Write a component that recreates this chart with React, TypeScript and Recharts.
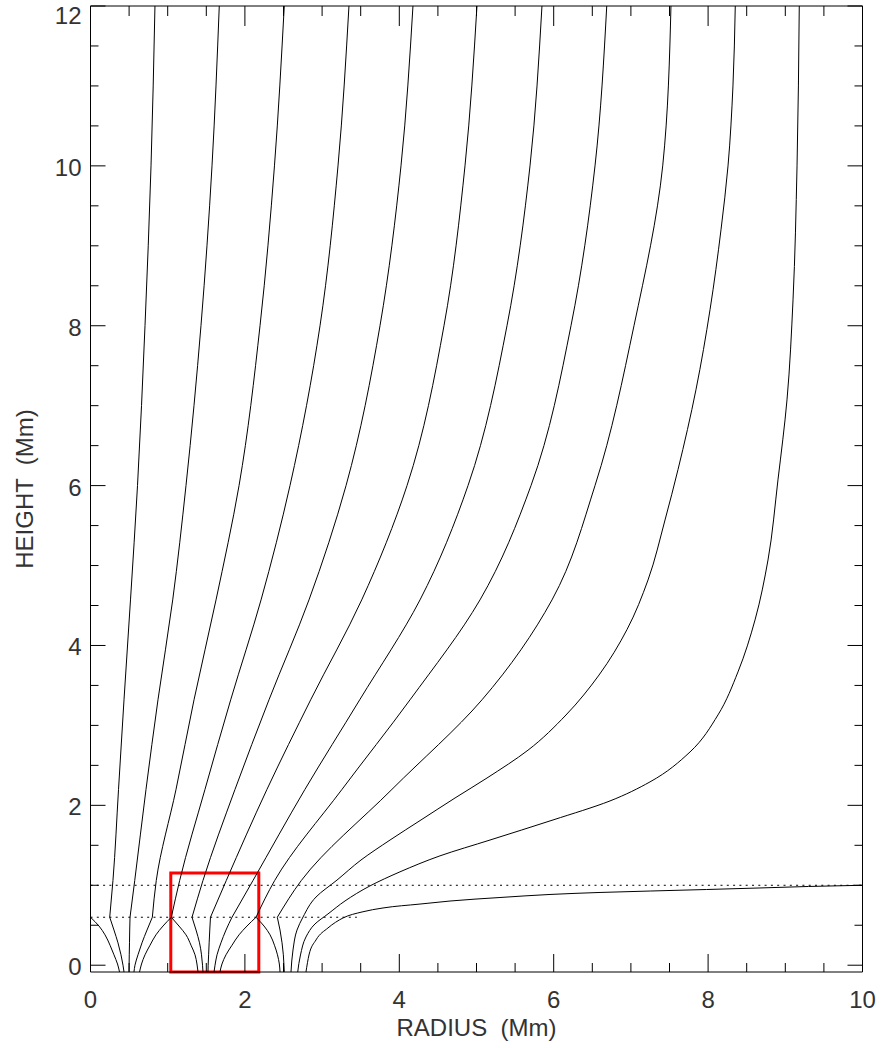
import { LineChart, Line, XAxis, YAxis, ReferenceArea } from 'recharts'

const upperZ = [0.6, 1.06, 2.2, 3.32, 4.57, 6, 8, 10, 12]
const line1Upper = [0.249, 0.291, 0.363, 0.434, 0.518, 0.609, 0.706, 0.784, 0.835]
const line2Upper = [0.512, 0.573, 0.719, 0.874, 1.065, 1.237, 1.431, 1.574, 1.668]
const line3Upper = [0.801, 0.852, 1.108, 1.341, 1.626, 1.924, 2.196, 2.383, 2.51]
const line4Upper = [1.047, 1.155, 1.483, 1.816, 2.209, 2.584, 2.973, 3.206, 3.348]
const line5Upper = [1.315, 1.457, 1.872, 2.312, 2.83, 3.31, 3.75, 4.022, 4.177]
const line6Upper = [1.554, 1.759, 2.286, 2.852, 3.513, 4.1, 4.579, 4.851, 5.006]
const line7Upper = [1.833, 2.105, 2.778, 3.487, 4.268, 4.89, 5.395, 5.693, 5.848]
const line8Upper = [2.144, 2.386, 3.258, 4.139, 5.045, 5.706, 6.224, 6.535, 6.687]
const line9Upper = [2.42, 2.731, 3.905, 5.071, 5.978, 6.535, 7.04, 7.412, 7.519]

// below the 0.6 Mm layer, inside the flux tubes
const lowerZ = [-0.085, 0, 0.13, 0.28, 0.44, 0.6]
const line1Lower = [0.434, 0.421, 0.395, 0.356, 0.304, 0.249]
const line2Lower = [0.499, 0.5, 0.502, 0.505, 0.508, 0.512]
const line3Lower = [0.563, 0.576, 0.615, 0.667, 0.732, 0.801]
const line5Lower = [1.457, 1.451, 1.438, 1.412, 1.367, 1.315]
const line6Lower = [1.522, 1.524, 1.53, 1.537, 1.545, 1.554]
const line7Lower = [1.6, 1.613, 1.639, 1.69, 1.755, 1.833]
const line9Lower = [2.51, 2.506, 2.498, 2.481, 2.455, 2.42]

// tube boundary arcs, from the base up to the cusps
const arcZ = [-0.085, 0.015, 0.13, 0.25, 0.38, 0.49, 0.6]
const arcA1 = [0.376, 0.35, 0.304, 0.253, 0.188, 0.11, 0]
const arcA2 = [0.635, 0.661, 0.706, 0.771, 0.848, 0.939, 1.047]
const arcB1 = [1.393, 1.379, 1.354, 1.302, 1.237, 1.146, 1.047]
const arcB2 = [1.677, 1.703, 1.755, 1.833, 1.924, 2.027, 2.144]
const arcC1 = [2.455, 2.446, 2.422, 2.383, 2.326, 2.248, 2.144]

// outer lines of the third tube
const line10R = [2.597, 2.623, 2.675, 2.753, 2.921, 3.193, 3.504, 3.88, 4.281, 4.722, 5.136, 5.667, 6.159, 6.587, 6.95, 7.222, 7.442, 7.61, 7.843, 8.025, 8.167, 8.258, 8.322, 8.352]
const line10Z = [-0.085, 0.19, 0.44, 0.603, 0.853, 1.065, 1.316, 1.566, 1.817, 2.092, 2.342, 2.69, 3.13, 3.63, 4.2, 4.82, 5.57, 6.2, 7.2, 8.2, 9.2, 10, 11, 12]
const line11R = [2.684, 2.72, 2.791, 2.908, 3.076, 3.297, 3.62, 4.009, 4.527, 5.175, 5.991, 6.729, 7.247, 7.766, 8.128, 8.387, 8.608, 8.776, 8.905, 9.022, 9.1, 9.152, 9.181]
const line11Z = [-0.085, 0.128, 0.353, 0.516, 0.641, 0.804, 0.992, 1.168, 1.368, 1.566, 1.817, 2.055, 2.293, 2.668, 3.131, 3.669, 4.32, 5.07, 6.071, 7.072, 8.323, 10, 12]
const line12R = [2.791, 2.83, 2.921, 3.076, 3.271, 3.517, 3.789, 4.268, 4.657, 5.304, 5.952, 6.6, 7.25, 7.98, 8.66, 9.3, 10]
const line12Z = [-0.085, 0.128, 0.316, 0.466, 0.591, 0.666, 0.716, 0.765, 0.803, 0.847, 0.885, 0.91, 0.928, 0.947, 0.966, 0.985, 1.0]

// dotted layer heights and their extent
const layerZ = [0.6, 1.0]
const layerEnd = [3.45, 10]

// highlighted box
const boxR = [1.04, 2.18]
const boxZ = [-0.085, 1.155]

const xTicks = Array.from({ length: 21 }, (_, i) => i * 0.5)
const yTicks = Array.from({ length: 25 }, (_, i) => i * 0.5)

const pts = (rs: number[], zs: number[]) => rs.map((r, i) => ({ r, z: zs[i] }))

const segments = [
  pts(line1Lower, lowerZ), pts(line1Upper, upperZ),
  pts(line2Lower, lowerZ), pts(line2Upper, upperZ),
  pts(line3Lower, lowerZ), pts(line3Upper, upperZ),
  pts(line4Upper, upperZ),
  pts(line5Lower, lowerZ), pts(line5Upper, upperZ),
  pts(line6Lower, lowerZ), pts(line6Upper, upperZ),
  pts(line7Lower, lowerZ), pts(line7Upper, upperZ),
  pts(line8Upper, upperZ),
  pts(line9Lower, lowerZ), pts(line9Upper, upperZ),
  pts(arcA1, arcZ), pts(arcA2, arcZ), pts(arcB1, arcZ), pts(arcB2, arcZ), pts(arcC1, arcZ),
  pts(line10R, line10Z), pts(line11R, line11Z),
]

const FONT = 'Liberation Sans, Arial, sans-serif'
const TEXT = '#333'
const isMajor = (v: number) => Math.abs(v % 2) < 1e-6

function BottomTick(props: any) {
  const { x, y, payload } = props
  const major = isMajor(payload.value)
  return (
    <g>
      <line x1={x} x2={x} y1={y} y2={y - (major ? 18 : 9)} stroke="#000" />
      {major && (
        <text x={x} y={y + 36} textAnchor="middle" fontSize={24} fontFamily={FONT} fill={TEXT}>
          {payload.value}
        </text>
      )}
    </g>
  )
}

function TopTick(props: any) {
  const { x, y, payload } = props
  return <line x1={x} x2={x} y1={y} y2={y + (isMajor(payload.value) ? 20 : 10)} stroke="#000" />
}

function LeftTick(props: any) {
  const { x, y, payload } = props
  const major = isMajor(payload.value)
  return (
    <g>
      <line x1={x} x2={x + (major ? 15 : 8)} y1={y} y2={y} stroke="#000" />
      {major && (
        <text x={x - 9} y={Math.max(y + 10, 24)} textAnchor="end" fontSize={24} fontFamily={FONT} fill={TEXT}>
          {payload.value}
        </text>
      )}
    </g>
  )
}

function RightTick(props: any) {
  const { x, y, payload } = props
  return <line x1={x} x2={x - (isMajor(payload.value) ? 15 : 8)} y1={y} y2={y} stroke="#000" />
}

export default function App() {
  return (
    <div style={{ position: 'absolute', left: 0, top: 0, width: 881, height: 1048, background: '#fff' }}>
      <LineChart width={881} height={1048} margin={{ top: 5, right: 17.5, bottom: 0, left: 0 }}>
        <XAxis
          dataKey="r" type="number" domain={[0, 10]} ticks={xTicks} interval={0} allowDataOverflow
          height={76} tickSize={0} tickMargin={0} tickLine={false} tick={BottomTick}
          axisLine={{ stroke: '#000' }}
        />
        <XAxis
          xAxisId="top" orientation="top" dataKey="r" type="number" domain={[0, 10]} ticks={xTicks} interval={0}
          allowDataOverflow height={1} tickSize={0} tickMargin={0} tickLine={false} tick={TopTick}
          axisLine={{ stroke: '#000' }}
        />
        <YAxis
          dataKey="z" type="number" domain={[-0.085, 12]} ticks={yTicks} interval={0} allowDataOverflow
          width={90.5} tickSize={0} tickMargin={0} tickLine={false} tick={LeftTick}
          axisLine={{ stroke: '#000' }}
        />
        <YAxis
          yAxisId="right" orientation="right" dataKey="z" type="number" domain={[-0.085, 12]} ticks={yTicks}
          interval={0} allowDataOverflow width={1} tickSize={0} tickMargin={0} tickLine={false} tick={RightTick}
          axisLine={{ stroke: '#000' }}
        />
        {layerZ.map((z, i) => (
          <Line
            key={`layer${i}`} data={pts([0, layerEnd[i]], [z, z])} dataKey="z" type="linear"
            stroke="#000" strokeWidth={1} strokeDasharray="2 4.3" dot={false} activeDot={false}
            isAnimationActive={false}
          />
        ))}
        {segments.map((d, i) => (
          <Line
            key={`seg${i}`} data={d} dataKey="z" type="monotoneY" stroke="#000" strokeWidth={1}
            dot={false} activeDot={false} isAnimationActive={false}
          />
        ))}
        <Line
          data={pts(line12R, line12Z)} dataKey="z" type="monotoneX" stroke="#000" strokeWidth={1}
          dot={false} activeDot={false} isAnimationActive={false}
        />
        <ReferenceArea
          x1={boxR[0]} x2={boxR[1]} y1={boxZ[0]} y2={boxZ[1]} fill="none" fillOpacity={0}
          stroke="#ff0000" strokeWidth={3} ifOverflow="visible"
        />
        <text x={476.5} y={1036} textAnchor="middle" fontSize={24} fontFamily={FONT} fill={TEXT} style={{ whiteSpace: 'pre' }}>
          RADIUS  (Mm)
        </text>
        <text
          x={33} y={489} transform="rotate(-90, 33, 489)" textAnchor="middle" fontSize={24}
          fontFamily={FONT} fill={TEXT} style={{ whiteSpace: 'pre' }}
        >
          HEIGHT  (Mm)
        </text>
      </LineChart>
    </div>
  )
}
